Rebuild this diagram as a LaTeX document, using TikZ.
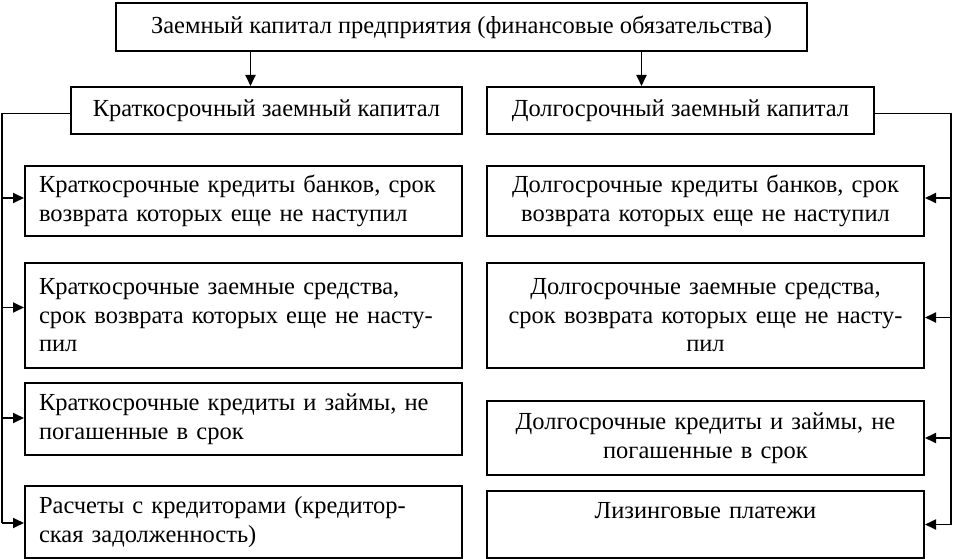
\documentclass[tikz,border=0pt]{standalone}
\usepackage{fontspec}
\setmainfont{Liberation Serif}
\newfontfamily\tnr{Liberation Serif}
\usetikzlibrary{arrows.meta}

\begin{document}
\begin{tikzpicture}[
	x=1pt,y=-1pt,
	font=\tnr\fontsize{24.5}{28.5}\selectfont,
	hbox/.style={draw,line width=2pt,anchor=north west,inner sep=0pt,align=center},
	lbox/.style={hbox,text width=409pt,inner xsep=14pt,align=left,minimum height=#1},
	rbox/.style={hbox,text width=409pt,inner xsep=14pt,minimum height=#1},
	bus/.style={line width=2pt},
	branch/.style={line width=1pt},
	arr/.style={line width=1.8pt,-{Triangle[length=11pt,width=10pt]}}
	]
	\useasboundingbox (0,0) rectangle (953,559);
	\node[hbox,minimum width=691pt,minimum height=48pt] (zk) at (115,2) {Заемный капитал предприятия (финансовые обязательства)};
	\node[hbox,minimum width=391pt,minimum height=47pt] (kz) at (70,86) {Краткосрочный заемный капитал};
	\node[hbox,minimum width=387pt,minimum height=47pt] (dz) at (486,86) {Долгосрочный заемный капитал};
	% short-term column
	\node[lbox=70pt] (k1) at (24,165) {Краткосрочные кредиты банков, срок\\возврата которых еще не наступил};
	\node[lbox=105pt] (k2) at (24,262) {Краткосрочные заемные средства,\\срок возврата которых еще не насту-\\пил};
	\node[lbox=72pt] (k3) at (24,382) {Краткосрочные кредиты и займы, не\\погашенные в срок};
	\node[lbox=72pt] (k4) at (24,485) {Расчеты с кредиторами (кредитор-\\ская задолженность)};
	% long-term column
	\node[rbox=70pt] (d1) at (486,165) {Долгосрочные кредиты банков, срок\\возврата которых еще не наступил};
	\node[rbox=105pt] (d2) at (486,262) {Долгосрочные заемные средства,\\срок возврата которых еще не насту-\\пил};
	\node[rbox=74pt] (d3) at (486,400) {Долгосрочные кредиты и займы, не\\погашенные в срок};
	\node[rbox=67pt] (d4) at (486,490) {Лизинговые платежи\\\mbox{}};
	\coordinate (lb) at (2,0);
	\coordinate (rb) at (951,0);
	\draw[arr] ([xshift=-16pt]kz.north |- zk.south) -- ([xshift=-16pt]kz.north);
	\draw[arr] ([xshift=-39pt]dz.north |- zk.south) -- ([xshift=-39pt]dz.north);
	\draw[branch] ([yshift=-3pt]kz.west) -- ([yshift=-3pt]kz.west -| lb);
	\draw[bus] ([yshift=-3pt]kz.west -| lb) -- ([yshift=-1pt]k4.west -| lb);
	\draw[branch] ([yshift=-3pt]dz.east) -- ([yshift=-3pt]dz.east -| rb);
	\draw[bus] ([yshift=-3pt]dz.east -| rb) -- (d4.east -| rb);
	\foreach \n/\s in {k1/3,k2/8,k3/1,k4/-1}{
		\draw[arr] ([yshift=\s pt]\n.west -| lb) -- ([yshift=\s pt]\n.west);
	}
	\foreach \n/\s in {d1/3,d2/-2,d3/0,d4/0}{
		\draw[arr] ([yshift=\s pt]\n.east -| rb) -- ([yshift=\s pt]\n.east);
	}
\end{tikzpicture}
\end{document}
